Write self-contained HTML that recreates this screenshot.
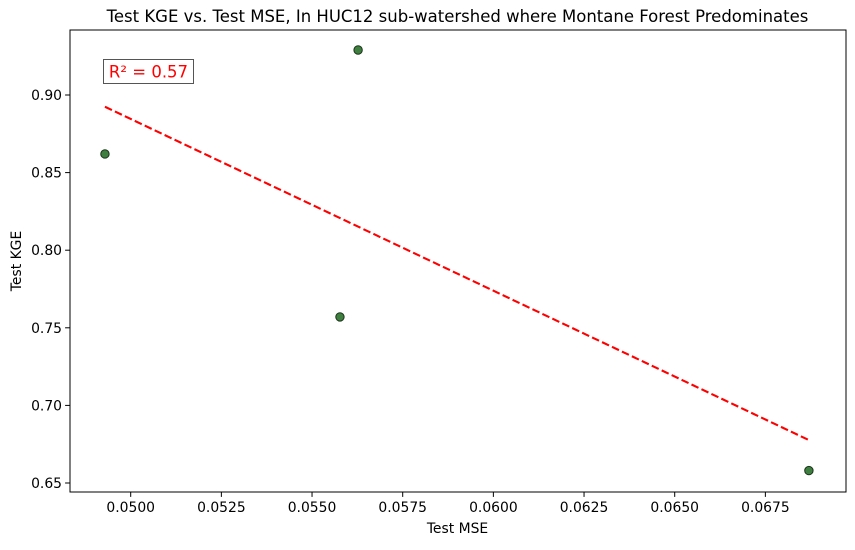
<!DOCTYPE html>
<html><head><meta charset="utf-8"><style>
html,body{margin:0;padding:0;background:#fff;}
svg text{font-family:"DejaVu Sans","Liberation Sans",sans-serif;}
</style></head><body>
<svg id="chart" width="855" height="545" viewBox="0 0 855 545" xmlns="http://www.w3.org/2000/svg">
<rect width="855" height="545" fill="#fff"/>
<text x="457.5" y="22" font-size="16.5" text-anchor="middle" fill="#000">Test KGE vs. Test MSE, In HUC12 sub-watershed where Montane Forest Predominates</text>
<g id="plot"></g>
<text x="457.5" y="533" font-size="13.9" text-anchor="middle">Test MSE</text>
<text transform="translate(21,261) rotate(-90)" font-size="13.9" text-anchor="middle">Test KGE</text>
</svg>
<script>
const mseValues = [0.04929, 0.05627, 0.05577, 0.06870];
const kgeValues = [0.862, 0.929, 0.757, 0.658];
const xTicks = [0.0500, 0.0525, 0.0550, 0.0575, 0.0600, 0.0625, 0.0650, 0.0675];
const xTickLabels = ["0.0500","0.0525","0.0550","0.0575","0.0600","0.0625","0.0650","0.0675"];
const yTicks = [0.65, 0.70, 0.75, 0.80, 0.85, 0.90];
const yTickLabels = ["0.65","0.70","0.75","0.80","0.85","0.90"];
const r2Label = "R² = 0.57";

const L=70,R=846,T=30,B=492;
const xs=v=>130.7+(v-0.05)*36267;
const ys=v=>95+(0.9-v)*1552;
const NS="http://www.w3.org/2000/svg";
const g=document.getElementById('plot');
function mk(t,a){const e=document.createElementNS(NS,t);for(const k in a)e.setAttribute(k,a[k]);g.appendChild(e);return e;}

xTicks.forEach((v,i)=>{
  const x=xs(v);
  const tk=mk('line',{x1:x,x2:x,y1:B,y2:B+4.9,stroke:'#000','stroke-width':1});
  
  
  const t=mk('text',{x:x,y:B+20,'font-size':13.9,'text-anchor':'middle'});
  t.textContent=xTickLabels[i];
  
  
});
yTicks.forEach((v,i)=>{
  const y=ys(v);
  const tk=mk('line',{x1:L-4.9,x2:L,y1:y,y2:y,stroke:'#000','stroke-width':1});
  
  
  const t=mk('text',{x:L-8,y:y+5,'font-size':13.9,'text-anchor':'end'});
  t.textContent=yTickLabels[i];
  
  
});

const n=mseValues.length;
const mx=mseValues.reduce((a,b)=>a+b)/n, my=kgeValues.reduce((a,b)=>a+b)/n;
let sxy=0,sxx=0;
for(let i=0;i<n;i++){sxy+=(mseValues[i]-mx)*(kgeValues[i]-my);sxx+=(mseValues[i]-mx)**2;}
const slope=sxy/sxx, icpt=my-slope*mx;
const x0=Math.min(...mseValues), x1=Math.max(...mseValues);
const reg=mk('line',{x1:xs(x0),y1:ys(icpt+slope*x0),x2:xs(x1),y2:ys(icpt+slope*x1),stroke:'#ff0000','stroke-width':2.1,'stroke-dasharray':'7.7,3.3'});



mseValues.forEach((v,i)=>{
  const c=mk('circle',{cx:xs(v),cy:ys(kgeValues[i]),r:4.2,fill:'#3f7f3f',stroke:'#1a331a','stroke-width':1});
  
  
});

const box=mk('rect',{x:103.5,y:59.5,width:90,height:24,fill:'#fff',stroke:'#555','stroke-width':1});


const rt=mk('text',{x:148.5,y:77.5,'font-size':16.5,'text-anchor':'middle',fill:'#ff0000'});
rt.textContent=r2Label;



const fr=mk('rect',{x:L,y:T,width:R-L,height:B-T,fill:'none',stroke:'#000','stroke-width':1});


</script>
</body></html>
